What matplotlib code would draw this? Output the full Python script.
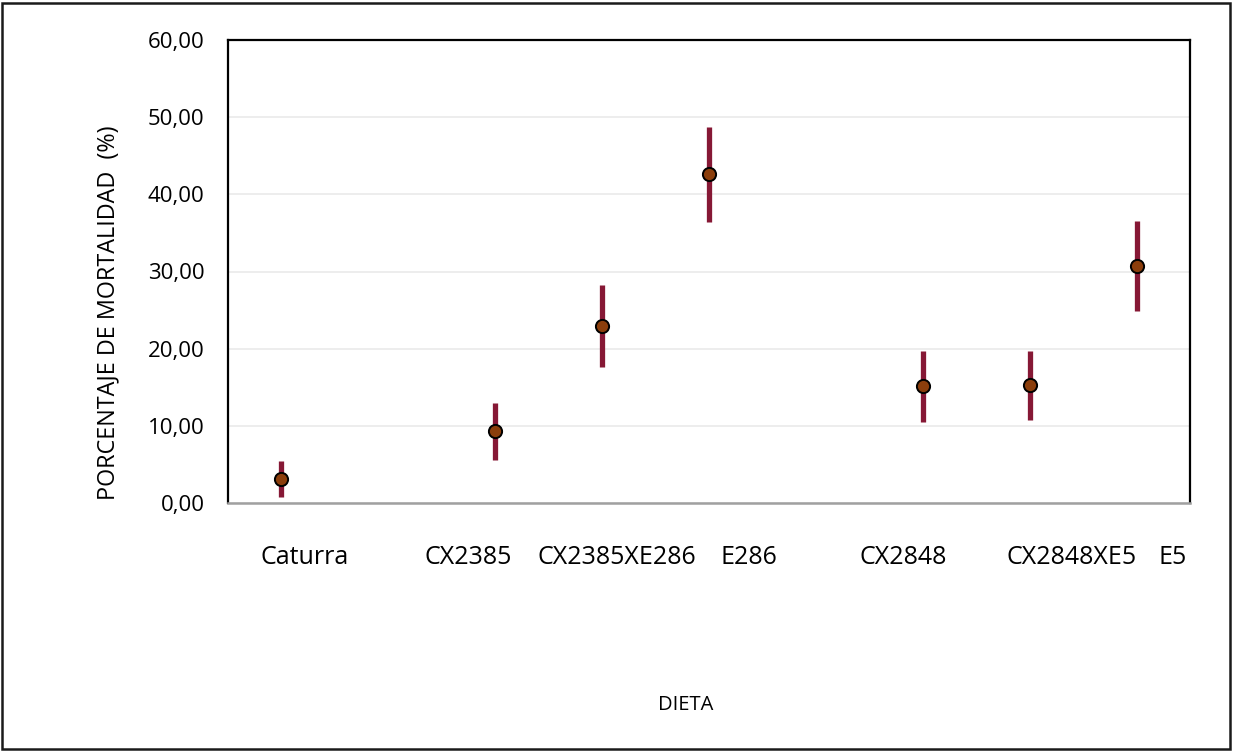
import matplotlib
matplotlib.use("Agg")
import matplotlib.pyplot as plt
from matplotlib.patches import Rectangle

categories = ["Caturra", "CX2385", "CX2385XE286", "E286", "CX2848", "CX2848XE5", "E5"]
positions = [0.5, 2.5, 3.5, 4.5, 6.5, 7.5, 8.5]
means = [3.15, 9.3, 22.9, 42.6, 15.1, 15.25, 30.75]
err_low = [2.35, 3.7, 5.3, 6.2, 4.55, 4.5, 5.85]
err_high = [2.35, 3.7, 5.3, 6.1, 4.55, 4.45, 5.85]
yticks = [0, 10, 20, 30, 40, 50, 60]
ytick_labels = ["0,00", "10,00", "20,00", "30,00", "40,00", "50,00", "60,00"]
label_x = [0.72, 2.245, 3.64, 4.87, 6.32, 7.89, 8.84]

plt.rcParams['font.family'] = ['Open Sans', 'DejaVu Sans']

fig = plt.figure(figsize=(12.33, 7.51), dpi=100)
ax = fig.add_axes([228/1233, 1-503/751, (1190-228)/1233, (503-40)/751])

ax.errorbar(positions, means, yerr=[err_low, err_high], fmt='o',
            ecolor='#861835', elinewidth=3.8, capsize=0,
            markerfacecolor='#8B3E0C', markeredgecolor='black',
            markeredgewidth=1.4, markersize=9.5, zorder=3)

ax.set_xlim(0, 9)
ax.set_ylim(0, 60)
ax.set_yticks(yticks)
ax.set_yticklabels(ytick_labels, fontsize=16)
ax.set_xticks([])
ax.tick_params(axis='y', length=0, pad=17)
ax.grid(axis='y', color='#ececec', linewidth=1.3, zorder=0)
ax.set_axisbelow(True)

for s in ['left', 'top', 'right']:
    ax.spines[s].set_color('black')
    ax.spines[s].set_linewidth(1.6)
ax.spines['bottom'].set_color('#a0a0a0')
ax.spines['bottom'].set_linewidth(1.8)

for x, lab in zip(label_x, categories):
    ax.text(x, -7.1, lab, ha='center', va='center', fontsize=18,
            transform=ax.transData, clip_on=False)

fig.text(108/1233, 1-313/751, "PORCENTAJE DE MORTALIDAD  (%)", rotation=90,
         ha='center', va='center', fontsize=16.8)
fig.text(686/1233, 1-705/751, "DIETA", ha='center', va='center', fontsize=14.5)

fig.patches.append(Rectangle((2/1233, 2/751), 1228/1233, 746/751,
                             transform=fig.transFigure, fill=False,
                             edgecolor='#1a1a1a', linewidth=1.8))

fig.savefig("out.png", dpi=100)
